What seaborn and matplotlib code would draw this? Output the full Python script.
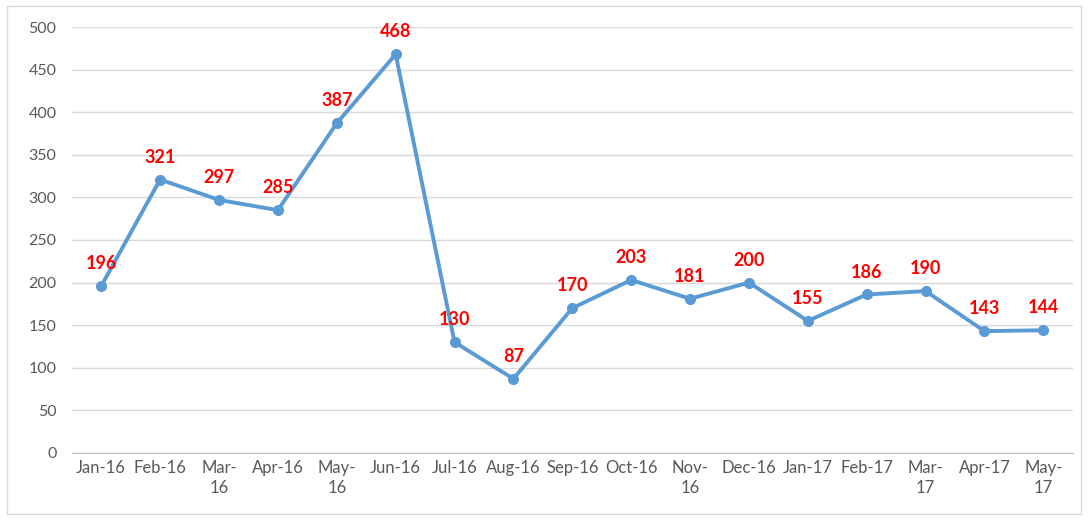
import numpy as np
import pandas as pd
import seaborn as sns
import matplotlib.pyplot as plt

months = ['Jan-16', 'Feb-16', 'Mar-\n16', 'Apr-16', 'May-\n16', 'Jun-16', 'Jul-16', 'Aug-16', 'Sep-16',
          'Oct-16', 'Nov-\n16', 'Dec-16', 'Jan-17', 'Feb-17', 'Mar-\n17', 'Apr-17', 'May-\n17']
counts = [196, 321, 297, 285, 387, 468, 130, 87, 170, 203, 181, 200, 155, 186, 190, 143, 144]

sns.set_style('white')
plt.rcParams['font.family'] = ['Lato', 'DejaVu Sans']

data = pd.DataFrame({'pos': np.arange(len(months)), 'count': counts})

fig = plt.figure(figsize=(10.88, 5.2), dpi=100)
ax = fig.add_axes([0.066, 0.129, 0.92, 0.819])

sns.lineplot(data=data, x='pos', y='count', marker='o', color='#5B9BD5', linewidth=2.8,
             markersize=8, markeredgewidth=0, ax=ax)

for i, v in enumerate(counts):
    ax.annotate(str(v), (i, v), xytext=(0, 10), textcoords='offset points', ha='center', va='bottom',
                color='#FF0000', fontsize=13, fontweight='bold')

ax.set_xlim(-0.5, len(months) - 0.5)
ax.set_ylim(0, 500)
ax.set_yticks(range(0, 501, 50))
ax.set_xticks(range(len(months)))
ax.set_xticklabels(months, linespacing=1.3)
ax.set_xticks(np.arange(-0.5, len(months), 1), minor=True)
ax.tick_params(axis='x', which='major', length=0, labelsize=12, labelcolor='#595959', pad=5)
ax.tick_params(axis='x', which='minor', length=5, color='#BFBFBF', width=1, direction='out')
ax.tick_params(axis='y', length=0, labelsize=11.5, labelcolor='#595959', pad=11)
ax.grid(axis='y', color='#D9D9D9', linewidth=1)
ax.set_axisbelow(True)
for side in ['top', 'right', 'left']:
    ax.spines[side].set_visible(False)
ax.spines['bottom'].set_color('#BFBFBF')
ax.set_xlabel('')
ax.set_ylabel('')

fig.patches.append(plt.Rectangle((0.006, 0.012), 0.988, 0.976, transform=fig.transFigure,
                                 fill=False, edgecolor='#D9D9D9', linewidth=1))

fig.savefig('out.png', dpi=100)
